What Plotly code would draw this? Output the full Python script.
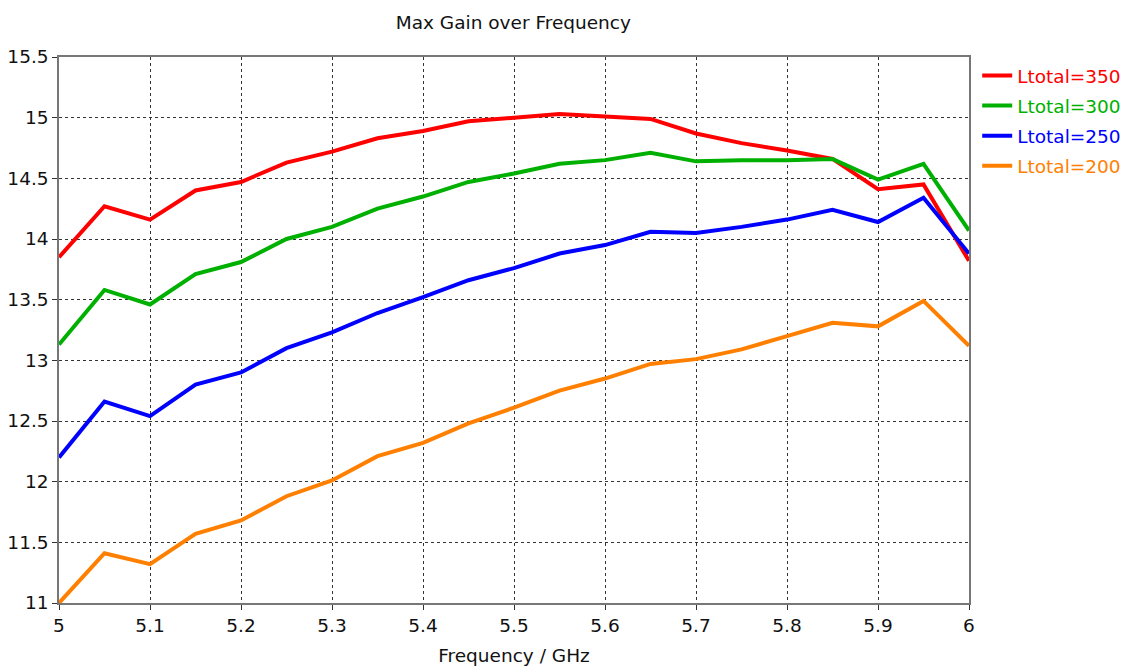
import plotly.graph_objects as go

freq = [5.00, 5.05, 5.10, 5.15, 5.20, 5.25, 5.30, 5.35, 5.40, 5.45, 5.50,
        5.55, 5.60, 5.65, 5.70, 5.75, 5.80, 5.85, 5.90, 5.95, 6.00]

gain_350 = [13.85, 14.27, 14.16, 14.40, 14.47, 14.63, 14.72, 14.83, 14.89, 14.97, 15.00,
            15.03, 15.01, 14.99, 14.87, 14.79, 14.73, 14.66, 14.41, 14.45, 13.82]
gain_300 = [13.13, 13.58, 13.46, 13.71, 13.81, 14.00, 14.10, 14.25, 14.35, 14.47, 14.54,
            14.62, 14.65, 14.71, 14.64, 14.65, 14.65, 14.66, 14.49, 14.62, 14.07]
gain_250 = [12.20, 12.66, 12.54, 12.80, 12.90, 13.10, 13.23, 13.39, 13.52, 13.66, 13.76,
            13.88, 13.95, 14.06, 14.05, 14.10, 14.16, 14.24, 14.14, 14.34, 13.88]
gain_200 = [11.00, 11.41, 11.32, 11.57, 11.68, 11.88, 12.01, 12.21, 12.32, 12.48, 12.61,
            12.75, 12.85, 12.97, 13.01, 13.09, 13.20, 13.31, 13.28, 13.49, 13.12]

series_names = ["Ltotal=350", "Ltotal=300", "Ltotal=250", "Ltotal=200"]
series_colors = ["#ff0000", "#00b000", "#0000ff", "#ff8000"]
series_values = [gain_350, gain_300, gain_250, gain_200]

x_ticks = [5.0, 5.1, 5.2, 5.3, 5.4, 5.5, 5.6, 5.7, 5.8, 5.9, 6.0]
x_tick_labels = ["5", "5.1", "5.2", "5.3", "5.4", "5.5", "5.6", "5.7", "5.8", "5.9", "6"]
y_ticks = [11, 11.5, 12, 12.5, 13, 13.5, 14, 14.5, 15, 15.5]
y_tick_labels = ["11", "11.5", "12", "12.5", "13", "13.5", "14", "14.5", "15", "15.5"]

fig = go.Figure()
for name, color, vals in zip(series_names, series_colors, series_values):
    fig.add_trace(go.Scatter(
        x=freq, y=vals, mode="lines",
        name=f"<span style='color:{color}'>{name}</span>",
        legendgroup=name,
        line=dict(color=color, width=4),
    ))

font_family = "Verdana, DejaVu Sans, sans-serif"

fig.update_layout(
    width=1128, height=670,
    margin=dict(l=51, r=167, t=49, b=75, autoexpand=False),
    paper_bgcolor="white", plot_bgcolor="white",
    font=dict(family=font_family, size=18.5, color="#111111"),
    title=dict(text="Max Gain over Frequency", x=0.448, xanchor="center",
               y=0.978, yanchor="middle", font=dict(size=18.5, color="#111111")),
    showlegend=True,
    legend=dict(x=1.009, xanchor="left", y=1.0, yanchor="top",
                font=dict(size=18.5), tracegroupgap=3, itemwidth=30,
                bgcolor="rgba(0,0,0,0)"),
)

fig.update_xaxes(
    range=[5, 6], tickvals=x_ticks, ticktext=x_tick_labels,
    showgrid=True, gridcolor="#333333", griddash="dot", gridwidth=1,
    showline=True, linecolor="#777777", linewidth=1.5, mirror=True,
    ticks="outside", ticklen=5, tickcolor="#333333",
    zeroline=False, automargin=False,
    title=dict(text="Frequency / GHz", standoff=14, font=dict(size=18.5)),
)
fig.update_yaxes(
    range=[11, 15.5], tickvals=y_ticks, ticktext=y_tick_labels,
    showgrid=True, gridcolor="#333333", griddash="dot", gridwidth=1,
    showline=True, linecolor="#777777", linewidth=1.5, mirror=True,
    ticks="outside", ticklen=5, tickcolor="#333333",
    zeroline=False, automargin=False,
)

fig.write_html("out.html")
